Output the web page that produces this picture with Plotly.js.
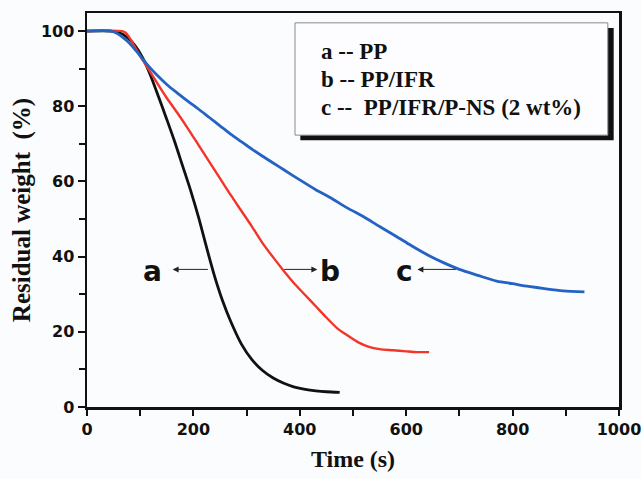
<!DOCTYPE html>
<html>
<head>
<meta charset="utf-8">
<script src="https://cdn.plot.ly/plotly-3.0.1.min.js"></script>
<style>html,body{margin:0;padding:0;background:#fbfcfe;}#chart{width:641px;height:479px;}</style>
</head>
<body>
<div id="chart"></div>
<script>
// Series a -- PP
const timeA = [0,45,60,75,90,105,120,135,150,165,180,195,210,225,240,255,270,290,310,330,350,370,390,410,430,450,475];
const weightA = [100,100,99.6,98.4,96.2,92.8,88,82.3,76.5,70.5,64,57.5,50.3,42.3,34.7,28.2,22.8,16.8,12.6,9.7,7.7,6.3,5.3,4.7,4.3,4.05,3.9];
// Series b -- PP/IFR
const timeB = [0,66,72,80,90,100,115,130,150,170,190,210,230,250,270,290,310,330,350,370,390,410,430,450,470,490,510,530,550,575,600,620,643];
const weightB = [100,100,99.6,98.2,95.8,93.3,90,86.6,82.2,78.2,74,69.6,65.2,60.8,56.4,52.2,48,43.6,39.8,36.2,32.8,29.8,26.8,23.8,21,19,17.2,16,15.4,15.1,14.8,14.6,14.6];
// Series c -- PP/IFR/P-NS (2 wt%)
const timeC = [0,45,55,65,75,86,100,115,130,150,170,190,210,230,250,270,290,310,330,350,370,400,430,456,490,520,550,580,610,645,670,700,735,770,800,830,860,895,935];
const weightC = [100,100,99.5,98.6,97.4,95.8,93.4,90.8,88.5,85.8,83.5,81.3,79.2,77,74.8,72.6,70.6,68.6,66.7,64.9,63.1,60.4,57.8,55.8,52.9,50.6,48,45.5,42.9,40.1,38.4,36.6,35,33.5,32.8,32.1,31.5,30.9,30.6];

const legendLines = ['a -- PP', 'b -- PP/IFR', 'c --  PP/IFR/P-NS (2 wt%)'];
const curveLabels = ['a', 'b', 'c'];
const xTickVals = [0, 200, 400, 600, 800, 1000];
const yTickVals = [0, 20, 40, 60, 80, 100];
// arrows: head x, tail x, common y; label x
const arrowHeadX = [161, 433, 621];
const arrowTailX = [230, 368, 696];
const arrowY = 36.6;
const labelX = [123, 456, 597];

const colors = ['#111111', '#f43428', '#2462c4'];
const serif = '"Times New Roman", "Liberation Serif", Times, serif';

const traces = [
  {x: timeA, y: weightA, name: 'a', mode: 'lines', line: {color: colors[0], width: 2.8, shape: 'spline', smoothing: 0.8}},
  {x: timeB, y: weightB, name: 'b', mode: 'lines', line: {color: colors[1], width: 2.4, shape: 'spline', smoothing: 0.8}},
  {x: timeC, y: weightC, name: 'c', mode: 'lines', line: {color: colors[2], width: 2.8, shape: 'spline', smoothing: 0.8}}
];

const annotations = [];
for (let i = 0; i < 3; i++) {
  annotations.push({
    x: arrowHeadX[i], y: arrowY, ax: arrowTailX[i], ay: arrowY,
    xref: 'x', yref: 'y', axref: 'x', ayref: 'y',
    text: '', showarrow: true, arrowhead: 2, arrowsize: 1.2, arrowwidth: 1, arrowcolor: '#222',
    standoff: 0, startstandoff: 0
  });
  annotations.push({
    x: labelX[i], y: arrowY - 0.6, xref: 'x', yref: 'y', text: '<b>' + curveLabels[i] + '</b>',
    showarrow: false, xanchor: 'center', yanchor: 'middle',
    font: {family: 'DejaVu Sans', size: 28, color: '#111'}
  });
}
const legendY = [0.902, 0.830, 0.759];
for (let i = 0; i < 3; i++) {
  annotations.push({
    x: 0.436, y: legendY[i], xref: 'paper', yref: 'paper', text: '<b>' + legendLines[i] + '</b>',
    showarrow: false, xanchor: 'left', yanchor: 'middle',
    font: {family: serif, size: 23, color: '#111'}
  });
}

const layout = {
  width: 641, height: 479,
  margin: {l: 87, r: 22, t: 13, b: 72},
  paper_bgcolor: '#fbfcfe', plot_bgcolor: '#fbfcfe',
  showlegend: false,
  xaxis: {
    range: [0, 1000], tickmode: 'array', tickvals: xTickVals, ticktext: xTickVals.map(String),
    ticklabeloverflow: 'allow',
    showgrid: false, zeroline: false,
    showline: true, linecolor: '#111', linewidth: 2.5, mirror: true,
    ticks: 'outside', ticklen: 6, tickwidth: 2, tickcolor: '#111',
    minor: {dtick: 100, tick0: 0, ticks: 'outside', ticklen: 6, tickwidth: 2, tickcolor: '#111'},
    tickfont: {family: 'DejaVu Sans', size: 16, color: '#111', weight: 'bold'},
    title: {text: '<b>Time (s)</b>', font: {family: serif, size: 24, color: '#111'}, standoff: 13}
  },
  yaxis: {
    range: [0, 104.8], tickmode: 'array', tickvals: yTickVals, ticktext: yTickVals.map(String),
    ticklabeloverflow: 'allow',
    showgrid: false, zeroline: false,
    showline: true, linecolor: '#111', linewidth: 2.5, mirror: true,
    ticks: 'outside', ticklen: 7, tickwidth: 2, tickcolor: '#111',
    minor: {dtick: 10, tick0: 0, ticks: 'outside', ticklen: 6, tickwidth: 2, tickcolor: '#111'},
    tickfont: {family: 'DejaVu Sans', size: 16, color: '#111', weight: 'bold'},
    title: {text: '<b>Residual weight  (%)</b>', font: {family: serif, size: 25, color: '#111'}, standoff: 3}
  },
  shapes: [
    {type: 'rect', xref: 'paper', yref: 'paper', x0: 0.401, x1: 0.990, y0: 0.677, y1: 0.962,
     fillcolor: '#111', line: {width: 0}, layer: 'above'},
    {type: 'rect', xref: 'paper', yref: 'paper', x0: 0.391, x1: 0.979, y0: 0.690, y1: 0.975,
     fillcolor: '#fdfdff', line: {color: '#8a8a8a', width: 1}, layer: 'above'}
  ],
  annotations: annotations
};

Plotly.newPlot('chart', traces, layout, {displayModeBar: false, staticPlot: true});
</script>
</body>
</html>
